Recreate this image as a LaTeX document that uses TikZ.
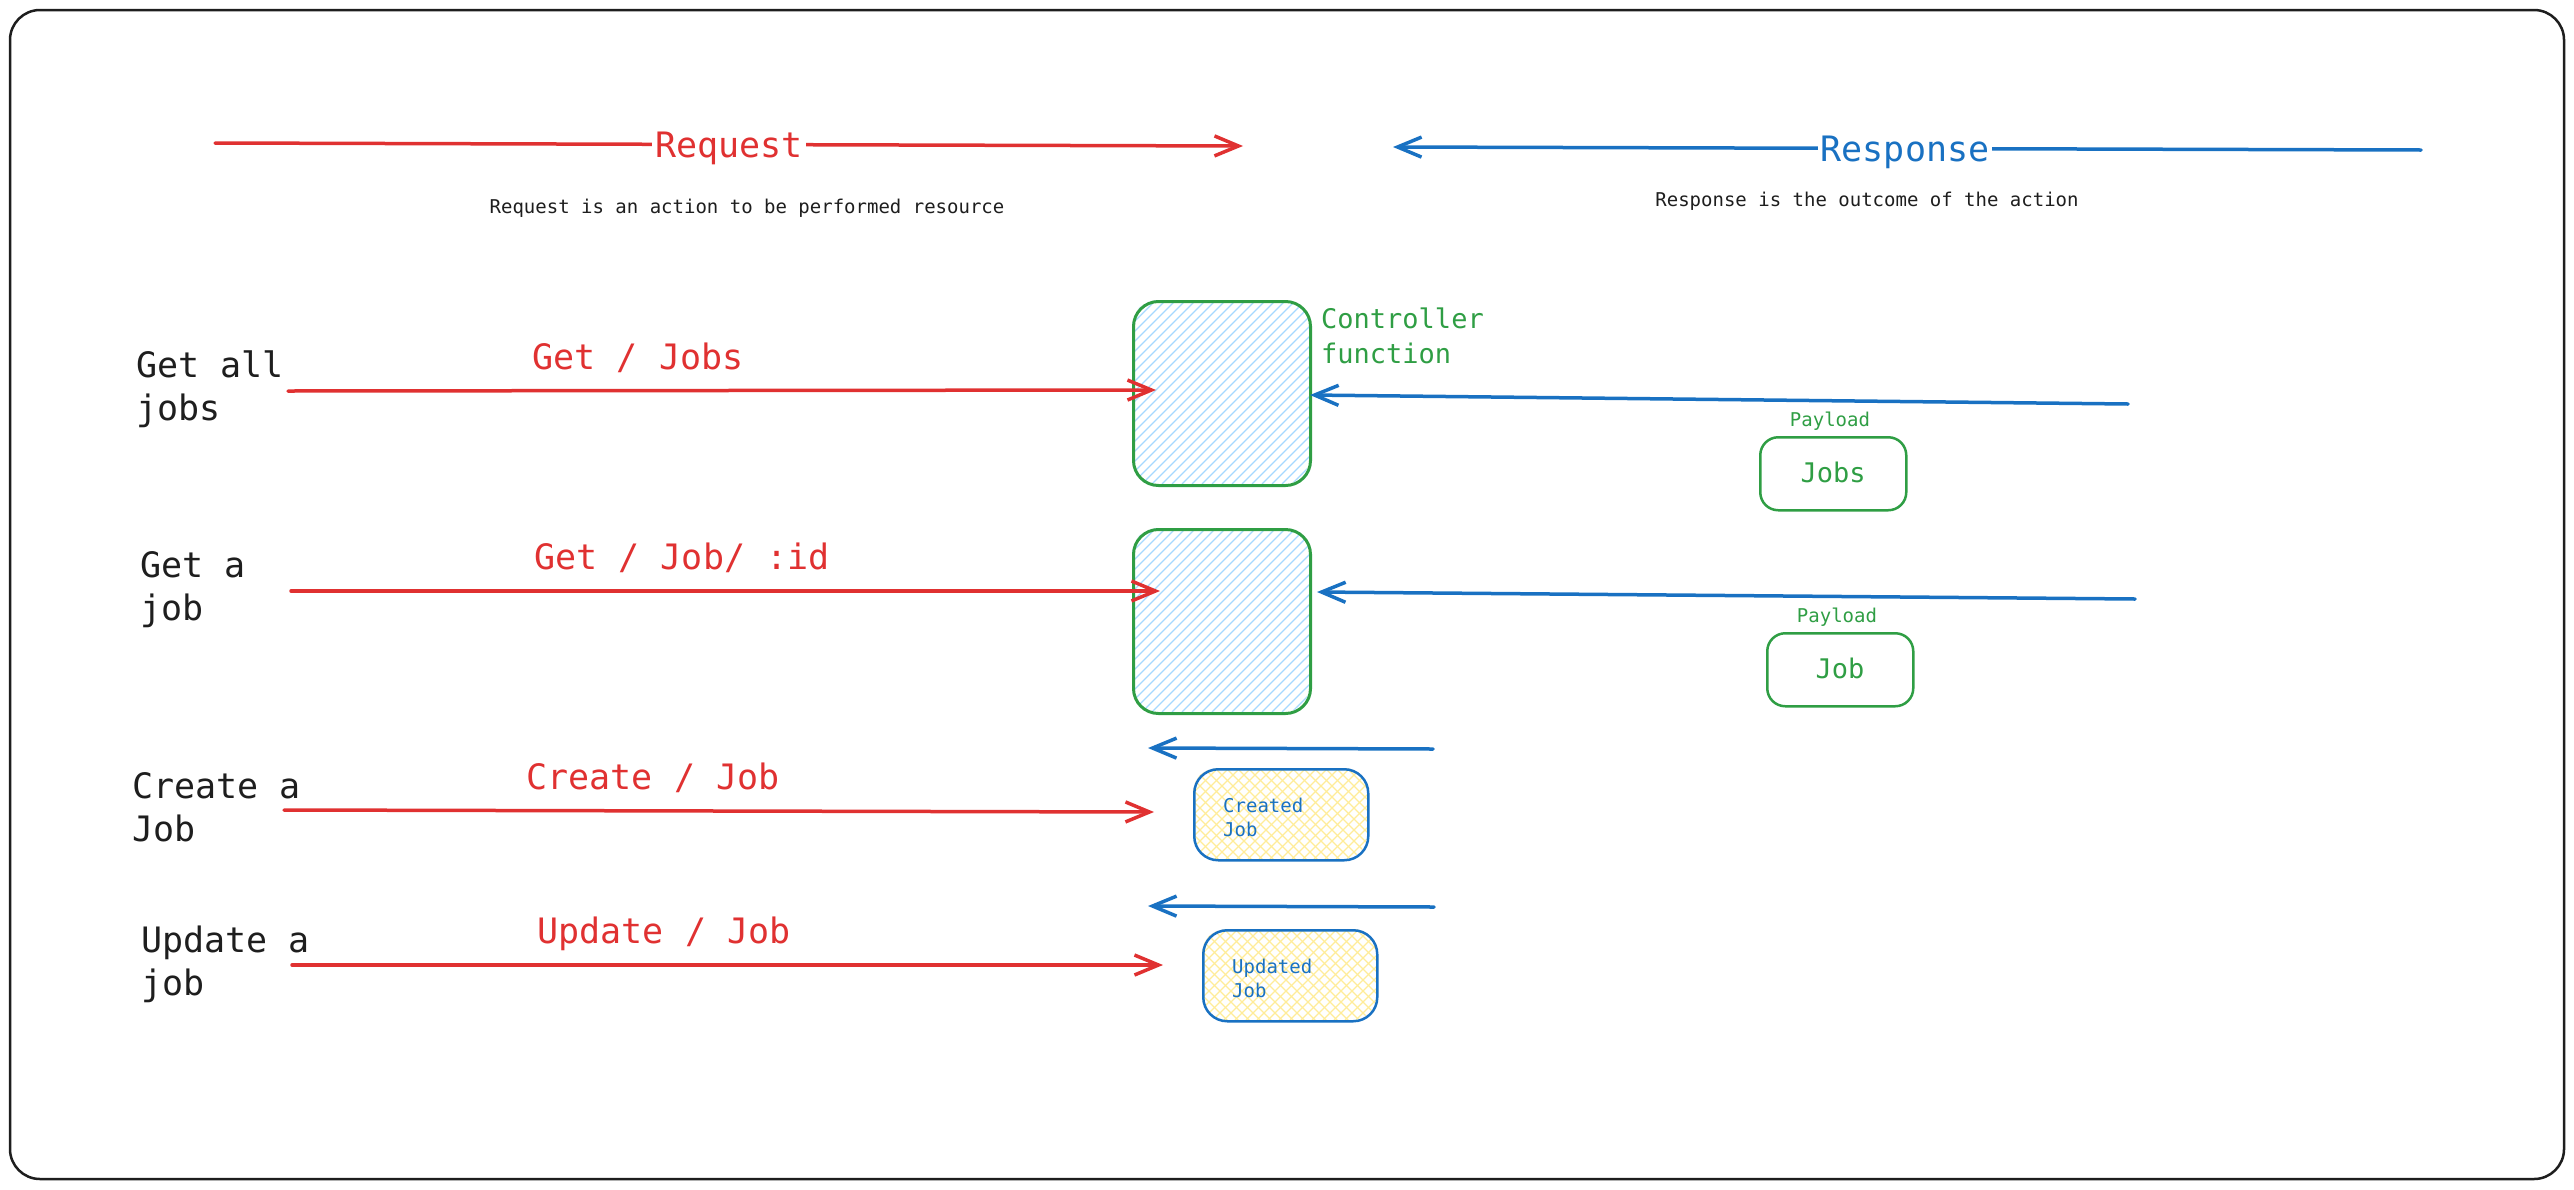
\documentclass[tikz,border=0pt]{standalone}
\usepackage{fontspec}
\setmainfont{DejaVu Sans Mono}
\setmonofont{DejaVu Sans Mono}
\usetikzlibrary{arrows.meta,backgrounds}
\definecolor{exred}{HTML}{E03131}
\definecolor{exblue}{HTML}{1971C2}
\definecolor{exgreen}{HTML}{2F9E44}
\definecolor{exlblue}{HTML}{A5D8FF}
\definecolor{exyellow}{HTML}{FFEC99}
\definecolor{exblack}{HTML}{1E1E1E}
\newcommand\exBig{\fontsize{35}{43}\selectfont}
\newcommand\exMid{\fontsize{27}{35}\selectfont}
\newcommand\exSmall{\fontsize{19}{24}\selectfont}
\begin{document}
\begin{tikzpicture}[x=1pt,y=-1pt,
  redarrow/.style={draw=exred,line width=3.5pt,line cap=round,-{Straight Barb[length=24pt,width=20pt]}},
  bluearrow/.style={draw=exblue,line width=3.5pt,line cap=round,-{Straight Barb[length=24pt,width=20pt]}},
  ctrlbox/.style={draw=exgreen,line width=3pt,rounded corners=25pt,minimum width=177pt,minimum height=184pt,anchor=north west,inner sep=0pt},
  paybox/.style={draw=exgreen,line width=2.5pt,rounded corners=18pt,minimum width=146pt,minimum height=73pt,anchor=north west,inner sep=0pt},
  resbox/.style={draw=exblue,line width=2.5pt,rounded corners=24pt,minimum width=174pt,minimum height=91pt,anchor=north west,inner sep=0pt},
  hatchb/.style={draw=exlblue,line width=1.3pt},
  hatchy/.style={draw=exyellow,line width=1.3pt},
  txt/.style={inner sep=0pt,anchor=base},
  ltxt/.style={inner sep=0pt,anchor=base west,align=left},
  arrlabel/.style={inner xsep=3pt,inner ysep=0pt,fill=white,anchor=base}
]
\useasboundingbox (0,0) rectangle (2574,1189);
% frame
\draw[exblack,line width=2.5pt,rounded corners=30pt] (10,10) rectangle (2564,1179);

% headers
\coordinate (reqS) at (215,143);
\coordinate (reqE) at (1243,146);
\draw[redarrow] (reqS) -- (reqE);
\node[arrlabel,text=exred,font=\exBig] (reqL) at (729,157) {Request};
\node[txt,text=exblack,font=\exSmall] (reqD) at (747,213) {Request is an action to be performed resource};

\coordinate (resS) at (2421,150);
\coordinate (resE) at (1393,147);
\draw[bluearrow] (resS) -- (resE);
\node[arrlabel,text=exblue,font=\exBig] (resL) at (1905,161) {Response};
\node[txt,text=exblack,font=\exSmall] (resD) at (1867,206) {Response is the outcome of the action};

% controller boxes
\node[ctrlbox] (c1) at (1132,300) {};
\node[ctrlbox] (c2) at (1132,528) {};
\begin{scope}[on background layer]
  \begin{scope}
    \clip[rounded corners=25pt] (1132,300) rectangle (1309,484);
    \foreach \t in {-200,-190,...,190} \draw[hatchb] (1132+\t,484) -- ++(200,-200);
  \end{scope}
  \begin{scope}
    \clip[rounded corners=25pt] (1132,528) rectangle (1309,712);
    \foreach \t in {-200,-190,...,190} \draw[hatchb] (1132+\t,712) -- ++(200,-200);
  \end{scope}
  \begin{scope}
    \clip[rounded corners=24pt] (1193,768) rectangle (1367,859);
    \foreach \t in {-110,-99,...,180} {
      \draw[hatchy] (1193+\t,859) -- ++(110,-110);
      \draw[hatchy] (1193+\t,768) -- ++(110,110);
    }
  \end{scope}
  \begin{scope}
    \clip[rounded corners=24pt] (1202,929) rectangle (1376,1020);
    \foreach \t in {-110,-99,...,180} {
      \draw[hatchy] (1202+\t,1020) -- ++(110,-110);
      \draw[hatchy] (1202+\t,929) -- ++(110,110);
    }
  \end{scope}
\end{scope}
\node[ltxt,text=exgreen,font=\exMid] (ctrlL) at (1321,363) {Controller\\function};

% payload boxes
\node[txt,text=exgreen,font=\exSmall] (pay1) at (1830,426) {Payload};
\node[paybox] (jobs) at (1759,436) {};
\node[txt,text=exgreen,font=\exMid] (jobsT) at (1833,482) {Jobs};
\node[txt,text=exgreen,font=\exSmall] (pay2) at (1837,622) {Payload};
\node[paybox] (job) at (1766,632) {};
\node[txt,text=exgreen,font=\exMid] (jobT) at (1840,678) {Job};

% result boxes
\node[resbox] (cj) at (1193,768) {};
\node[ltxt,text=exblue,font=\exSmall] (cjT) at (1223,836) {Created\\Job};
\node[resbox] (uj) at (1202,929) {};
\node[ltxt,text=exblue,font=\exSmall] (ujT) at (1232,997) {Updated\\Job};

% left labels
\node[ltxt,text=exblack,font=\exBig] (l1) at (136,420) {Get all\\jobs};
\node[ltxt,text=exblack,font=\exBig] (l2) at (140,620) {Get a\\job};
\node[ltxt,text=exblack,font=\exBig] (l3) at (132,841) {Create a\\Job};
\node[ltxt,text=exblack,font=\exBig] (l4) at (141,995) {Update a\\job};

% request arrows
\coordinate (r1s) at (288,391); \coordinate (r1e) at (1156,390);
\coordinate (r2s) at (291,591); \coordinate (r2e) at (1160,591);
\coordinate (r3s) at (284,810); \coordinate (r3e) at (1154,812);
\coordinate (r4s) at (292,965); \coordinate (r4e) at (1163,965);
\draw[redarrow] (r1s) -- (r1e);
\draw[redarrow] (r2s) -- (r2e);
\draw[redarrow] (r3s) -- (r3e);
\draw[redarrow] (r4s) -- (r4e);
\node[txt,text=exred,font=\exBig] (m1) at (638,369) {Get / Jobs};
\node[txt,text=exred,font=\exBig] (m2) at (682,569) {Get / Job/ :id};
\node[txt,text=exred,font=\exBig] (m3) at (653,789) {Create / Job};
\node[txt,text=exred,font=\exBig] (m4) at (664,943) {Update / Job};

% response arrows
\coordinate (b1s) at (2128,404); \coordinate (b1e) at (1310,395);
\coordinate (b2s) at (2135,599); \coordinate (b2e) at (1317,592);
\coordinate (b3s) at (1433,749); \coordinate (b3e) at (1148,748);
\coordinate (b4s) at (1434,907); \coordinate (b4e) at (1148,906);
\draw[bluearrow] (b1s) -- (b1e);
\draw[bluearrow] (b2s) -- (b2e);
\draw[bluearrow] (b3s) -- (b3e);
\draw[bluearrow] (b4s) -- (b4e);
\end{tikzpicture}
\end{document}
